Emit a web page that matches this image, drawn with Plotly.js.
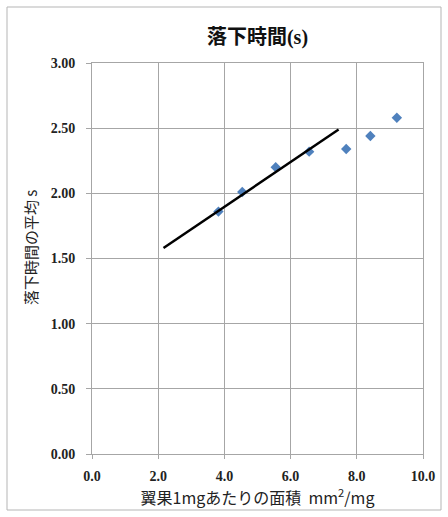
<!DOCTYPE html>
<html>
<head>
<meta charset="utf-8">
<script src="https://cdn.plot.ly/plotly-3.0.1.min.js"></script>
<style>
html,body{margin:0;padding:0;background:#fff;}
#chart{width:448px;height:517px;}
</style>
</head>
<body>
<div id="chart"></div>
<script>
// Data
const areaPerMg = [3.82, 4.54, 5.55, 6.56, 7.68, 8.41, 9.21];
const meanFallTime = [1.86, 2.01, 2.20, 2.32, 2.34, 2.44, 2.58];
const fitX = [2.16, 7.45];
const fitY = [1.58, 2.49];
const xTicks = [0, 2, 4, 6, 8, 10];
const xTickLabels = ["0.0", "2.0", "4.0", "6.0", "8.0", "10.0"];
const yTicks = [0, 0.5, 1, 1.5, 2, 2.5, 3];
const yTickLabels = ["0.00", "0.50", "1.00", "1.50", "2.00", "2.50", "3.00"];
const titleText = "落下時間(s)";
const xTitle = "翼果1mgあたりの面積 &nbsp;mm<sup>2</sup>/mg";
const yTitle = "落下時間の平均 s";

const tickFont = {family: "Liberation Serif, Times New Roman, serif", size: 14, color: "#222", weight: "bold"};
const cjk = "Noto Sans CJK JP, Noto Sans, sans-serif";

const traces = [
  {
    x: areaPerMg, y: meanFallTime, type: "scatter", mode: "markers",
    marker: {symbol: "diamond", size: 8, color: "#4F81BD"},
    showlegend: false, hoverinfo: "skip"
  },
  {
    x: fitX, y: fitY, type: "scatter", mode: "lines",
    line: {color: "#000", width: 2.5},
    showlegend: false, hoverinfo: "skip"
  }
];

const layout = {
  width: 448, height: 517,
  margin: {l: 92, r: 25, t: 63, b: 63},
  paper_bgcolor: "#fff", plot_bgcolor: "#fff",
  title: {
    text: "<b>" + titleText + "</b>",
    font: {family: "Liberation Serif, " + cjk, size: 20, color: "#111"},
    x: 0.5, xanchor: "center", y: 1 - 37/517, yanchor: "middle", xref: "paper"
  },
  xaxis: {
    range: [0, 10], tickvals: xTicks, ticktext: xTickLabels,
    tickfont: tickFont, showgrid: true, gridcolor: "#a6a6a6", gridwidth: 1,
    showline: true, linecolor: "#a6a6a6", linewidth: 1, mirror: true,
    ticks: "outside", ticklen: 4, tickcolor: "#a6a6a6", ticklabelstandoff: 5,
    zeroline: false, fixedrange: true,
    title: {text: xTitle, font: {family: cjk, size: 16, color: "#222"}, standoff: 3}
  },
  yaxis: {
    range: [0, 3], tickvals: yTicks, ticktext: yTickLabels,
    tickfont: tickFont, showgrid: true, gridcolor: "#a6a6a6", gridwidth: 1,
    showline: true, linecolor: "#a6a6a6", linewidth: 1, mirror: true,
    ticks: "outside", ticklen: 5, tickcolor: "#a6a6a6", ticklabelstandoff: 8,
    zeroline: false, fixedrange: true
  },
  annotations: [
    {
      text: yTitle, textangle: -90, showarrow: false,
      xref: "paper", yref: "paper",
      x: (30 - 92) / 331, y: (454 - 248) / 391,
      xanchor: "center", yanchor: "middle",
      font: {family: cjk, size: 15, color: "#222"}
    }
  ],
  shapes: [
    {
      type: "rect", xref: "paper", yref: "paper",
      x0: (7 - 92) / 331, x1: (441 - 92) / 331,
      y0: (454 - 510) / 391, y1: (454 - 7) / 391,
      line: {color: "#b5b5b5", width: 1}, fillcolor: "rgba(0,0,0,0)", layer: "below"
    }
  ]
};

Plotly.newPlot("chart", traces, layout, {displayModeBar: false, staticPlot: true});
</script>
</body>
</html>
